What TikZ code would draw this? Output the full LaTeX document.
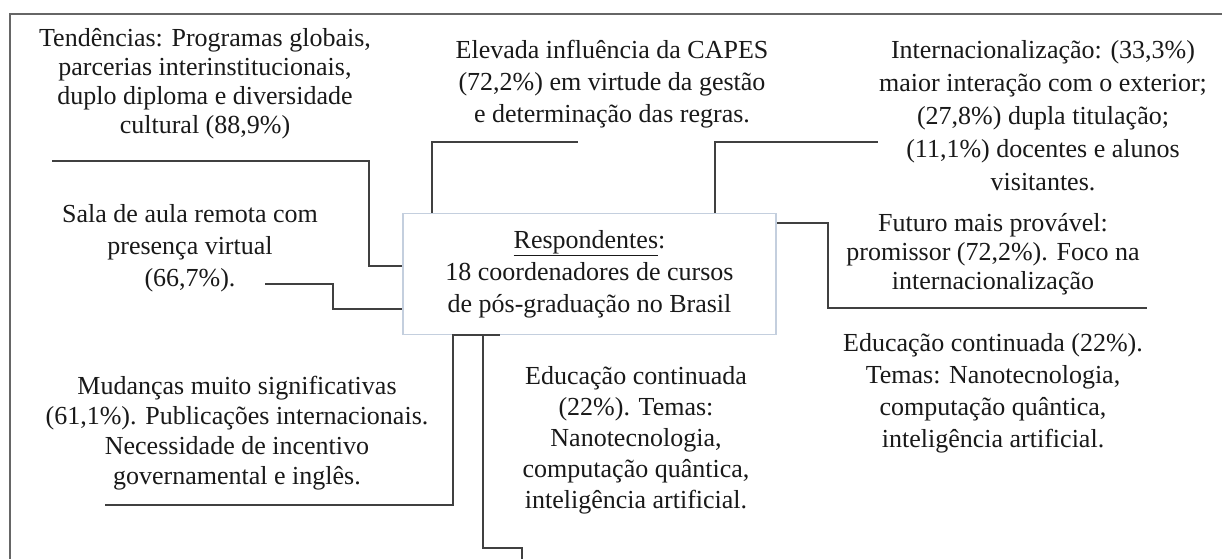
\documentclass[tikz,border=0pt]{standalone}
\usepackage{fontspec}
\setmainfont{Liberation Serif}
\definecolor{boxc}{RGB}{196,207,222}
\definecolor{linec}{RGB}{64,64,64}
\begin{document}
\begin{tikzpicture}[x=1pt,y=-1pt,
  txt/.style={align=center,inner sep=0pt,text=black!90,font=\fontsize{26}{31}\selectfont},
  conn/.style={draw=linec,line width=1.8pt},
  frameline/.style={draw=black!60,line width=2pt}]
\useasboundingbox (0,0) rectangle (1222,559);
\fill[white] (0,0) rectangle (1222,559);
\draw[frameline] (10,559) -- (10,14) -- (1222,14);

\node[draw=boxc,line width=1.5pt,minimum width=373pt,minimum height=121pt,inner sep=0pt,txt,font=\fontsize{26}{32}\selectfont] (box) at (589.5,274)
  {\underline{Respondentes}:\\18 coordenadores de cursos\\de pós-graduação no Brasil};

\node[txt,font=\fontsize{26}{29}\selectfont] (tend) at (205,84) {Tendências: Programas globais,\\parcerias interinstitucionais,\\duplo diploma e diversidade\\cultural (88,9\%)};
\node[txt,font=\fontsize{26}{32}\selectfont] (sala) at (190,248) {Sala de aula remota com\\presença virtual\\(66,7\%).};
\node[txt,font=\fontsize{26}{32}\selectfont] (elev) at (612,84) {Elevada influência da CAPES\\(72,2\%) em virtude da gestão\\e determinação das regras.};
\node[txt,font=\fontsize{26}{33}\selectfont] (intl) at (1043,116) {Internacionalização: (33,3\%)\\maior interação com o exterior;\\(27,8\%) dupla titulação;\\(11,1\%) docentes e alunos\\visitantes.};
\node[txt,font=\fontsize{26}{29}\selectfont] (fut) at (993,254) {Futuro mais provável:\\promissor (72,2\%). Foco na\\internacionalização};
\node[txt,font=\fontsize{26}{30}\selectfont] (mud) at (237,433) {Mudanças muito significativas\\(61,1\%). Publicações internacionais.\\Necessidade de incentivo\\governamental e inglês.};
\node[txt,font=\fontsize{26}{31}\selectfont] (edu1) at (636,440) {Educação continuada\\(22\%). Temas:\\Nanotecnologia,\\computação quântica,\\inteligência artificial.};
\node[txt,font=\fontsize{26}{32}\selectfont] (edu2) at (993,393) {Educação continuada (22\%).\\Temas: Nanotecnologia,\\computação quântica,\\inteligência artificial.};

% connectors
\coordinate (a0) at (52,161);
\coordinate (a1) at (369,266);
\draw[conn] (a0) -| (a1) -- (a1 -| box.west);

\coordinate (b0) at (265,284);
\coordinate (b1) at (333,309);
\draw[conn] (b0) -| (b1) -- (b1 -| box.west);

\coordinate (c0) at (578,142);
\coordinate (c1) at (432,142);
\draw[conn] (c1 |- box.north) -- (c1) -- (c0);

\coordinate (d0) at (878,142);
\coordinate (d1) at (715,142);
\draw[conn] (d1 |- box.north) -- (d1) -- (d0);

\coordinate (e1) at (828,223);
\coordinate (e0) at (1147,308);
\draw[conn] (e1 -| box.east) -- (e1) |- (e0);

\coordinate (f0) at (105,505);
\coordinate (f1) at (453,505);
\coordinate (f2) at (500,333);
\draw[conn] (f2 |- box.south) -- (f1 |- box.south) -- (f1) -- (f0);

\coordinate (g1) at (483,548);
\coordinate (g2) at (522,559);
\draw[conn] (g1 |- box.south) -- (g1) -| (g2);
\end{tikzpicture}
\end{document}
